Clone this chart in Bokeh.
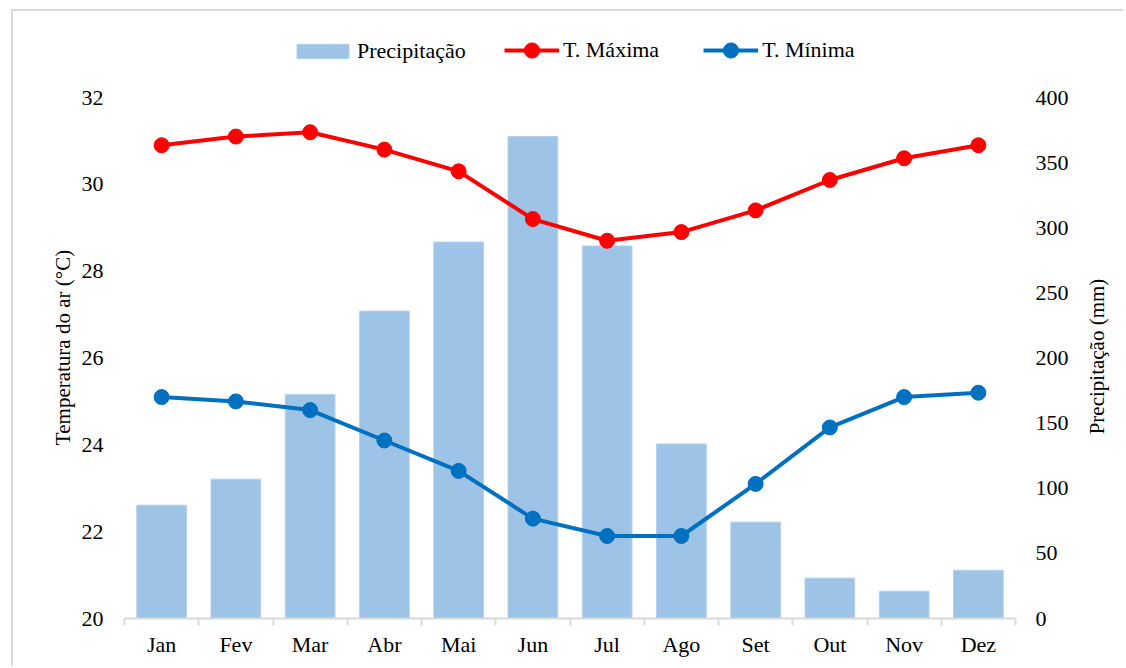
import math
from bokeh.plotting import figure
from bokeh.layouts import row
from bokeh.models import (Range1d, LinearAxis, FixedTicker, Legend, LegendItem,
                          ColumnDataSource, Label)
from bokeh.embed import file_html
from bokeh.resources import INLINE

# ---- data ----
months = ["Jan", "Fev", "Mar", "Abr", "Mai", "Jun", "Jul", "Ago", "Set", "Out", "Nov", "Dez"]
precip = [87, 107, 172, 236, 289, 370, 286, 134, 74, 31, 21, 37]
t_max = [30.9, 31.1, 31.2, 30.8, 30.3, 29.2, 28.7, 28.9, 29.4, 30.1, 30.6, 30.9]
t_min = [25.1, 25.0, 24.8, 24.1, 23.4, 22.3, 21.9, 21.9, 23.1, 24.4, 25.1, 25.2]
temp_ticks = [20, 22, 24, 26, 28, 30, 32]
precip_ticks = [0, 50, 100, 150, 200, 250, 300, 350, 400]
temp_label = "Temperatura do ar (°C)"
precip_label = "Precipitação (mm)"

FONT = "Liberation Serif"
FS = "22px"
LFS = "21px"

# layout (page pixels): the frame extends above the top tick to host the legend
H = 655
CANVAS_LEFT = 13
CANVAS_TOP = 11
FRAME_TOP = 30
AXIS_TOP = 97
AXIS_BOTTOM = 618
LEFT_W = 64
MAIN_W = 998
RIGHT_W = 48
BORDER_TOP = FRAME_TOP - CANVAS_TOP
BORDER_BOTTOM = H + CANVAS_TOP - AXIS_BOTTOM
ext = (AXIS_BOTTOM - FRAME_TOP) / (AXIS_BOTTOM - AXIS_TOP)

t_lo, t_hi = temp_ticks[0], temp_ticks[-1]
p_lo, p_hi = precip_ticks[0], precip_ticks[-1]

xs = [i + 0.5 for i in range(len(months))]
src = ColumnDataSource(dict(x=xs, month=months, precip=precip, tmax=t_max, tmin=t_min))

p = figure(width=MAIN_W, height=H,
           x_range=Range1d(0, len(months)),
           y_range=Range1d(t_lo, t_lo + (t_hi - t_lo) * ext),
           output_backend="svg", toolbar_location=None,
           min_border_left=47, min_border_right=60,
           min_border_top=BORDER_TOP, min_border_bottom=BORDER_BOTTOM)
p.extra_y_ranges = {"precip": Range1d(p_lo, p_lo + (p_hi - p_lo) * ext)}
p.outline_line_color = None
p.xgrid.visible = False
p.ygrid.visible = False
p.background_fill_color = "white"
p.border_fill_color = "white"

bars = p.vbar(x="x", top="precip", width=0.67, bottom=0, source=src, y_range_name="precip",
              fill_color="#9DC3E6", line_color="#B4D2EC", line_width=1)
lmax = p.line(x="x", y="tmax", source=src, line_color="#FF0000", line_width=4)
smax = p.scatter(x="x", y="tmax", source=src, size=15, fill_color="#FF0000", line_color="#FF0000")
lmin = p.line(x="x", y="tmin", source=src, line_color="#0070C0", line_width=4)
smin = p.scatter(x="x", y="tmin", source=src, size=15, fill_color="#0070C0", line_color="#0070C0")

# x axis
xa = p.xaxis[0]
xa.ticker = FixedTicker(ticks=xs, minor_ticks=list(range(len(months) + 1)))
xa.major_label_overrides = {x: m for x, m in zip(xs, months)}
xa.major_tick_out = 0
xa.major_tick_in = 0
xa.minor_tick_out = 7
xa.minor_tick_in = 0
xa.minor_tick_line_color = "#d9d9d9"
xa.minor_tick_line_width = 2
xa.axis_line_color = "#d9d9d9"
xa.axis_line_width = 2
xa.major_label_standoff = 6
xa.major_label_text_font = FONT
xa.major_label_text_font_size = FS
xa.major_label_text_color = "black"


def style_value_axis(ax):
    ax.axis_line_color = None
    ax.major_tick_out = 0
    ax.major_tick_in = 0
    ax.minor_tick_out = 0
    ax.minor_tick_in = 0
    ax.major_label_text_font = FONT
    ax.major_label_text_font_size = FS
    ax.major_label_text_color = "black"


# left axis (tick labels; its title is drawn alongside)
ya = p.yaxis[0]
ya.ticker = FixedTicker(ticks=temp_ticks)
style_value_axis(ya)
ya.major_label_standoff = 21

# right axis
ra = LinearAxis(y_range_name="precip", ticker=FixedTicker(ticks=precip_ticks))
style_value_axis(ra)
ra.major_label_standoff = 20
p.add_layout(ra, "right")

# legends
leg_bar = Legend(items=[LegendItem(label="Precipitação", renderers=[bars])],
                 orientation="horizontal", location=(166, AXIS_BOTTOM - 64))
leg_bar.glyph_width = 65
leg_bar.glyph_height = 18
leg_bar.label_standoff = 2
leg_lines = Legend(items=[
    LegendItem(label="T. Máxima", renderers=[lmax, smax]),
    LegendItem(label="T. Mínima", renderers=[lmin, smin]),
], orientation="horizontal", location=(380, AXIS_BOTTOM - 69))
leg_lines.glyph_width = 55
leg_lines.glyph_height = 38
leg_lines.label_standoff = 4
leg_lines.spacing = 44
for lg in (leg_bar, leg_lines):
    lg.padding = 0
    lg.margin = 0
    lg.border_line_color = None
    lg.background_fill_alpha = 0
    lg.label_text_font = FONT
    lg.label_text_font_size = FS
    lg.label_text_color = "black"
    lg.label_height = 22
    p.add_layout(lg, "center")


def title_fig(text, width, page_left, cx, cy):
    # a strip whose data coordinates equal page pixels, holding a rotated axis title
    f = figure(width=width, height=H, output_backend="svg", toolbar_location=None,
               x_range=Range1d(page_left, page_left + width),
               y_range=Range1d(AXIS_BOTTOM, FRAME_TOP),
               x_axis_location=None, y_axis_location=None,
               min_border_left=0, min_border_right=0,
               min_border_top=BORDER_TOP, min_border_bottom=BORDER_BOTTOM)
    f.outline_line_color = None
    f.xgrid.visible = False
    f.ygrid.visible = False
    f.background_fill_color = "white"
    f.border_fill_color = "white"
    f.add_layout(Label(x=cx, y=cy, text=text, angle=math.pi / 2, angle_units="rad",
                       text_align="center", text_baseline="middle",
                       text_font=FONT, text_font_size=LFS, text_color="black"))
    return f


left_title = title_fig(temp_label, LEFT_W, CANVAS_LEFT, 62, 347)
right_title = title_fig(precip_label, RIGHT_W, CANVAS_LEFT + LEFT_W + MAIN_W, 1096, 356)

layout = row(left_title, p, right_title,
             styles={"margin-left": "11px", "margin-top": "9px",
                     "border-left": "2px solid #d9d9d9", "border-top": "2px solid #d9d9d9"})

open("out.html", "w").write(file_html(layout, INLINE))
